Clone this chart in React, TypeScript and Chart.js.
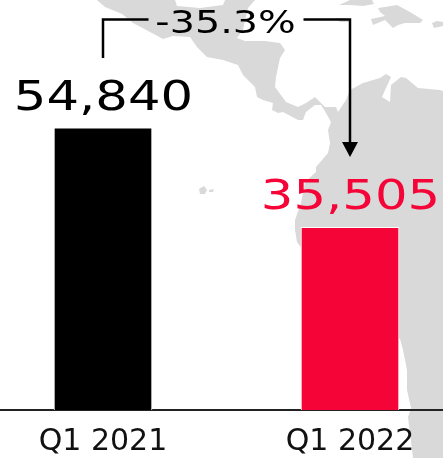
import React, { useEffect, useRef } from "react";
import { Chart, registerables } from "chart.js";

Chart.register(...registerables);

const categories = ["Q1 2021", "Q1 2022"];
const deliveries = [54840, 35505];
const barColors = ["#000000", "#f50537"];
const changeLabel = "-35.3%";

const LAND = "#d9d9d9";
const FONT = '"DejaVu Sans", sans-serif';

// Backdrop map of Central America, the Caribbean and northern South America, in canvas pixels.
const mainland: number[][] = [
  [97, 0], [105, 7], [122, 14], [133, 23], [150, 32], [163, 39], [173, 36], [190, 37], [197, 47], [207, 57],
  [223, 60], [238, 65], [243, 75], [255, 87], [257, 97], [263, 100], [273, 103], [272, 110], [278, 113],
  [283, 112], [298, 120], [303, 120], [306, 112], [315, 105], [321, 105], [326, 113], [331, 122], [328, 130],
  [330, 143], [328, 153], [316, 167], [316, 172], [305, 182], [301, 203], [295, 220], [295, 230], [297, 242],
  [340, 300], [400, 339], [403, 350], [407, 370], [407, 390], [411, 408], [408, 417], [412, 450], [413, 458],
  [443, 458], [443, 91], [440, 90], [418, 88], [406, 78], [401, 77], [391, 85], [390, 102], [382, 97],
  [386, 88], [391, 77], [386, 74], [380, 78], [363, 83], [350, 90], [346, 100], [338, 112], [336, 107],
  [325, 107], [318, 100], [315, 97], [306, 103], [298, 107], [286, 102], [275, 87], [276, 77], [280, 58],
  [285, 50], [280, 43], [265, 41], [245, 41], [237, 38], [243, 30], [245, 20], [248, 8], [255, 0], [225, 0],
  [223, 5], [200, 8], [177, 6], [175, 0],
];
const cuba: number[][] = [[339, 5], [350, 0], [372, 0], [374, 4], [363, 6], [350, 5]];
const hispaniola: number[][] = [
  [378, 8], [385, 7], [397, 5], [410, 12], [423, 20], [420, 23], [405, 23], [398, 25], [393, 28], [385, 20],
  [373, 25], [371, 19], [385, 16], [380, 12],
];
const puertoRico: number[][] = [[432, 23], [437, 21], [443, 22], [443, 26], [434, 28]];
const jamaica: number[][] = [[335, 18], [345, 18], [350, 22], [340, 22]];
const galapagosWest: number[][] = [[199, 189], [204, 186], [207, 190], [205, 194], [200, 194]];
const galapagosEast: number[][] = [[209, 190], [214, 189], [213, 192], [209, 192]];
const landShapes = [mainland, cuba, hispaniola, puertoRico, jamaica, galapagosWest, galapagosEast];

// Draws text stretched horizontally so the numerals read as an extended typeface.
function wideText(ctx: CanvasRenderingContext2D, text: string, x: number, y: number, size: number, stretch: number, color: string) {
  ctx.save();
  ctx.translate(x, y);
  ctx.scale(stretch, 1);
  ctx.font = `${size}px ${FONT}`;
  ctx.fillStyle = color;
  ctx.textAlign = "center";
  ctx.textBaseline = "alphabetic";
  ctx.fillText(text, 0, 0);
  ctx.restore();
}

const landPlugin = {
  id: "land",
  beforeDraw(chart: any) {
    const { ctx } = chart;
    ctx.save();
    ctx.fillStyle = LAND;
    landShapes.forEach((shape) => {
      ctx.beginPath();
      shape.forEach(([x, y], i) => (i ? ctx.lineTo(x, y) : ctx.moveTo(x, y)));
      ctx.closePath();
      ctx.fill();
    });
    ctx.restore();
  },
};

const annotationPlugin = {
  id: "annotations",
  afterDraw(chart: any) {
    const { ctx, scales } = chart;
    const xFirst = scales.x.getPixelForValue(0);
    const xSecond = scales.x.getPixelForValue(1);

    deliveries.forEach((value, i) => {
      const x = scales.x.getPixelForValue(i);
      const y = scales.y.getPixelForValue(value);
      wideText(ctx, value.toLocaleString("en-US"), x + 0.5, y - 18, 41, 1.25, i === 0 ? "#000000" : barColors[1]);
    });

    const bracketY = 19.5;
    const labelX = (xFirst + xSecond) / 2;
    ctx.save();
    ctx.strokeStyle = "#000000";
    ctx.lineWidth = 2.5;
    ctx.beginPath();
    ctx.moveTo(xFirst, 58);
    ctx.lineTo(xFirst, bracketY);
    ctx.lineTo(labelX - 78, bracketY);
    ctx.moveTo(labelX + 77, bracketY);
    ctx.lineTo(xSecond, bracketY);
    ctx.lineTo(xSecond, 145);
    ctx.stroke();
    ctx.fillStyle = "#000000";
    ctx.beginPath();
    ctx.moveTo(xSecond - 8, 142);
    ctx.lineTo(xSecond + 8, 142);
    ctx.lineTo(xSecond, 157);
    ctx.closePath();
    ctx.fill();
    ctx.restore();

    wideText(ctx, changeLabel, labelX - 1, 32.5, 32, 1.24, "#000000");
  },
};

export default function App() {
  const canvasRef = useRef<HTMLCanvasElement | null>(null);

  useEffect(() => {
    document.body.style.margin = "0";
    const chart = new Chart(canvasRef.current as HTMLCanvasElement, {
      type: "bar",
      data: {
        datasets: [
          {
            data: deliveries.map((y, x) => ({ x, y })),
            backgroundColor: barColors,
            borderColor: "#ffffff",
            borderWidth: 1,
            barThickness: 98,
          },
        ],
      },
      options: {
        animation: false,
        responsive: false,
        devicePixelRatio: 1,
        layout: { padding: 0 },
        plugins: { legend: { display: false }, tooltip: { enabled: false }, title: { display: false } },
        scales: {
          x: {
            type: "linear",
            offset: false,
            min: -0.417,
            max: 1.3765,
            grid: { display: false, drawTicks: false, offset: false },
            border: { display: true, color: "#222222", width: 2 },
            ticks: {
              color: "#111111",
              font: { family: FONT, size: 30 },
              padding: 14,
              maxRotation: 0,
              autoSkip: false,
              callback: (value: any) => categories[value],
            },
            afterBuildTicks: (scale: any) => {
              scale.ticks = categories.map((_, value) => ({ value }));
            },
            afterFit: (scale: any) => {
              scale.height = 48;
            },
          },
          y: { display: false, min: 0, max: 79700 },
        },
      } as any,
      plugins: [landPlugin, annotationPlugin],
    });
    return () => chart.destroy();
  }, []);

  return <canvas ref={canvasRef} width={443} height={458} style={{ display: "block" }} />;
}
